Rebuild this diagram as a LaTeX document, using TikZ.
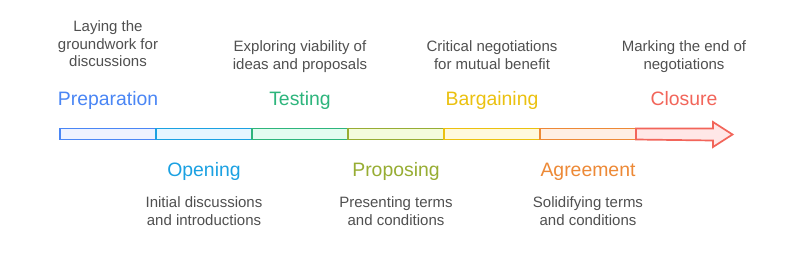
\documentclass[tikz,border=0pt]{standalone}
\usepackage{fontspec}
\setmainfont{Liberation Sans}
\usetikzlibrary{positioning}

\definecolor{prepline}{HTML}{4A86F5}
\definecolor{prepfill}{HTML}{EEF2FF}
\definecolor{openline}{HTML}{1BA1E2}
\definecolor{openfill}{HTML}{E6F6FF}
\definecolor{testline}{HTML}{2DB57C}
\definecolor{testfill}{HTML}{E3FCF1}
\definecolor{propline}{HTML}{97AD33}
\definecolor{propfill}{HTML}{F4FCDB}
\definecolor{bargline}{HTML}{EBC10F}
\definecolor{bargfill}{HTML}{FFF9DC}
\definecolor{agreline}{HTML}{ED8936}
\definecolor{agrefill}{HTML}{FFEEE3}
\definecolor{closline}{HTML}{F2655A}
\definecolor{closfill}{HTML}{FFE7E7}
\definecolor{desctext}{HTML}{505050}

\begin{document}
\begin{tikzpicture}[
  x=1pt, y=-1pt,
  seg/.style={draw, line width=1.7pt, minimum width=96pt, minimum height=11pt,
    inner sep=0pt, outer sep=0pt},
  phase/.style={font=\fontsize{19.4}{23}\selectfont, inner sep=0pt, anchor=base},
  descr/.style={font=\fontsize{15}{17.7}\selectfont, text=desctext, align=center,
    inner sep=0pt, anchor=base},
]
  \useasboundingbox[fill=white] (0,0) rectangle (792,263);

  % timeline bar
  \foreach \i/\c in {1/prep, 2/open, 3/test, 4/prop, 5/barg, 6/agre}
    \node[seg, draw=\c line, fill=\c fill] (s\i) at ({12+96*\i}, 134) {};
  \draw[line width=1.7pt, draw=closline, fill=closfill]
    (s6.north east) -- ++(77,0) -- ++(0,-6.5) -- ++(19.5,12.5)
    -- ++(-19.5,12.5) -- ++(0,-6.5) -- (s6.south east) -- cycle;

  % phases above
  \node[phase, text=prepline] (prep) at (108,105) {Preparation};
  \node[phase, text=testline] (test) at (300,105) {Testing};
  \node[phase, text=bargline] (barg) at (492,105) {Bargaining};
  \node[phase, text=closline] (clos) at (684,105) {Closure};

  \node[descr] (prepd) at (108,66.7) {Laying the\\groundwork for\\discussions};
  \node[descr] (testd) at (300,69.3) {Exploring viability of\\ideas and proposals};
  \node[descr] (bargd) at (492,69.3) {Critical negotiations\\for mutual benefit};
  \node[descr] (closd) at (684,69.3) {Marking the end of\\negotiations};

  % phases below
  \node[phase, text=openline] (open) at (204,176.7) {Opening};
  \node[phase, text=propline] (prop) at (396,176.7) {Proposing};
  \node[phase, text=agreline] (agre) at (588,176.7) {Agreement};

  \node[descr] (opend) at (204,225) {Initial discussions\\and introductions};
  \node[descr] (propd) at (396,225) {Presenting terms\\and conditions};
  \node[descr] (agred) at (588,225) {Solidifying terms\\and conditions};
\end{tikzpicture}
\end{document}
